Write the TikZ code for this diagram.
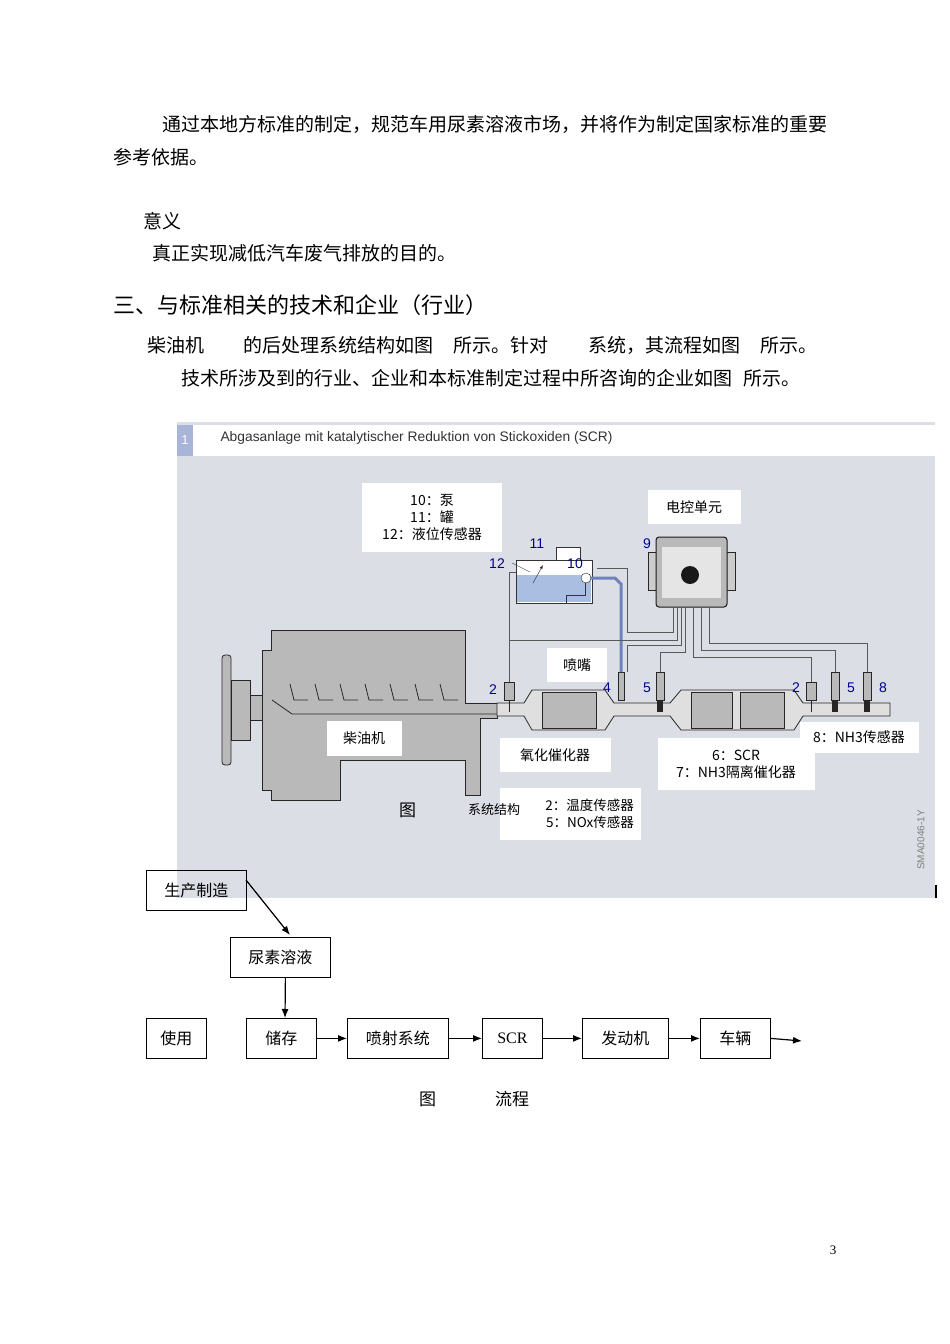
\documentclass[tikz,border=0pt]{standalone}
\usepackage{fontspec}
\usetikzlibrary{arrows.meta}
\setmainfont{Liberation Serif}
\newfontfamily\cjk{Noto Sans CJK SC}
\newfontfamily\hv{Liberation Sans}
\begin{document}
\begin{tikzpicture}[x=1pt,y=-1pt,
  body/.style={anchor=west,inner sep=0pt,font=\cjk\fontsize{19}{19}\selectfont},
  lbl/.style={fill=white,inner sep=2pt,align=center,font=\cjk\fontsize{14}{17}\selectfont},
  num/.style={text=blue!55!black,font=\hv\fontsize{14}{14}\selectfont,inner sep=0pt},
  fbox/.style={draw,thick,minimum height=40pt,anchor=north west,inner sep=0pt,font=\cjk\fontsize{16}{16}\selectfont},
  arr/.style={-{Latex[length=9pt,width=7pt]},line width=1.2pt},
  wire/.style={draw=gray!70!black,line width=0.9pt},
  eng/.style={fill=gray!55,draw=gray!30!black,line width=0.8pt}]
\useasboundingbox (0,0) rectangle (950,1344);
\fill[white] (0,0) rectangle (950,1344);
% body text
\node[body] (t1) at (162,124) {通过本地方标准的制定，规范车用尿素溶液市场，并将作为制定国家标准的重要};
\node[body] (t2) at (113,157) {参考依据。};
\node[body] (t3) at (143,221) {意义};
\node[body] (t4) at (152,253) {真正实现减低汽车废气排放的目的。};
\node[body,font=\cjk\fontsize{22}{22}\selectfont] (h3) at (113,305) {三、与标准相关的技术和企业（行业）};
\node[body] (a1) at (147,345) {柴油机};
\node[body] (a2) at (243,345) {的后处理系统结构如图};
\node[body] (a3) at (453,345) {所示。针对};
\node[body] (a4) at (588,345) {系统，其流程如图};
\node[body] (a5) at (760,345) {所示。};
\node[body] (b1) at (181,378) {技术所涉及到的行业、企业和本标准制定过程中所咨询的企业如图};
\node[body] (b2) at (743,378) {所示。};
% figure frame
\fill[fill={rgb,255:red,220;green,222;blue,230}] (177,422) rectangle (935,898);
\fill[white] (193,425) rectangle (935,456);
\fill[fill={rgb,255:red,168;green,180;blue,216}] (177,425) rectangle (193,456);
\node[text=white,font=\hv\fontsize{13}{13}\selectfont] (one) at (185,440) {1};
\node[anchor=west,font=\hv\fontsize{13.8}{13.8}\selectfont,text=black!80] (hdr) at (217,438) {Abgasanlage mit katalytischer Reduktion von Stickoxiden (SCR)};
\fill[black] (935,885) rectangle (937,898);
% engine
\path[eng,rounded corners=3pt] (222,655) rectangle (231,765);
\path[eng] (231,680) rectangle (250,740);
\path[eng] (250,695) rectangle (272,720);
\path[eng] (262,650) -- (271,650) -- (271,630) -- (465,630) -- (465,703) -- (497,703) -- (497,718) -- (480,718) -- (480,795) -- (465,795) -- (465,760) -- (340,760) -- (340,800) -- (271,800) -- (271,790) -- (262,790) -- cycle;
\foreach \x in {290,315,340,365,390,415,440}
  \draw[gray!30!black,line width=0.8pt] (\x,684) -- (\x+4,700) -- (\x+18,700);
\draw[gray!30!black,line width=0.8pt] (272,700) -- (292,714) -- (497,714);
% exhaust line
\path[draw=gray!30!black,fill=gray!25,line width=0.8pt] (497,703) -- (524,703) -- (532,690) -- (605,690) -- (614,703) -- (670,703) -- (681,690) -- (794,690) -- (803,703) -- (890,703) -- (890,716) -- (803,716) -- (794,730) -- (681,730) -- (670,716) -- (614,716) -- (605,730) -- (532,730) -- (524,716) -- (497,716) -- cycle;
\path[eng] (542,692) rectangle (596,728);
\path[eng] (691,692) rectangle (732,728);
\path[eng] (740,692) rectangle (784,728);
% sensors
\foreach \x in {509,811}{\path[eng] (\x-5,682) rectangle (\x+5,700); \draw[gray!30!black] (\x,700) -- (\x,712);}
\foreach \x in {660,835,867}{\path[eng] (\x-4,672) rectangle (\x+4,700); \fill[gray!30!black] (\x-3,700) rectangle (\x+3,712);}
\path[eng] (618,672) rectangle (624,700);
\node[num] (n2a) at (493,690) {2};
\node[num] (n4) at (607,688) {4};
\node[num] (n5a) at (647,688) {5};
\node[num] (n2b) at (796,688) {2};
\node[num] (n5b) at (851,688) {5};
\node[num] (n8) at (883,688) {8};
% tank
\path[fill=white,draw=gray!40!black] (516,560) rectangle (592,603);
\path[fill=white,draw=gray!40!black] (556,547) rectangle (580,560);
\fill[fill={rgb,255:red,170;green,190;blue,225}] (517,575) rectangle (591,602);
\draw[gray!40!black] (566,603) -- (566,595) -- (585,595) -- (585,580);
\draw[fill=white,draw=gray!30!black] (586,578) circle (5);
\draw[line width=3pt,draw={rgb,255:red,110;green,130;blue,190}] (591,578) -- (615,578) -- (621,584) -- (621,672);
\draw[gray!40!black] (512,563) -- (530,572);
\draw[-latex,gray!30!black] (533,583) -- (543,565);
\node[num] (n11) at (537,544) {11};
\node[num] (n12) at (497,564) {12};
\node[num] (n10) at (575,564) {10};
% ECU
\path[fill=gray!40,draw=gray!30!black] (648,552) rectangle (735,590);
\path[fill=gray!55,draw=gray!20!black,line width=1pt,rounded corners=3pt] (656,537) rectangle (727,607);
\path[fill=gray!20] (662,547) rectangle (721,598);
\fill[gray!20!black] (690,575) circle (9);
\node[num] (n9) at (647,544) {9};
% wires
\draw[wire] (509,682) -- (509,640) -- (677,640) -- (677,607);
\draw[wire] (509,640) -- (509,572) -- (516,572);
\draw[wire] (660,672) -- (660,652) -- (685,652) -- (685,607);
\draw[wire] (627,672) -- (627,645) -- (681,645) -- (681,607);
\draw[wire] (811,682) -- (811,657) -- (693,657) -- (693,607);
\draw[wire] (835,672) -- (835,650) -- (701,650) -- (701,607);
\draw[wire] (867,672) -- (867,643) -- (709,643) -- (709,607);
\draw[wire] (597,568) -- (627,568) -- (627,632) -- (673,632) -- (673,607);
% labels
\node[lbl,minimum width=140pt,minimum height=69pt] (L1) at (432,517) {10：泵\\11：罐\\12：液位传感器};
\node[lbl,minimum width=93pt,minimum height=34pt] (L2) at (694,507) {电控单元};
\node[lbl,minimum width=60pt,minimum height=34pt] (L3) at (577,665) {喷嘴};
\node[lbl,minimum width=75pt,minimum height=35pt] (L4) at (364,738) {柴油机};
\node[lbl,minimum width=111pt,minimum height=34pt] (L5) at (555,755) {氧化催化器};
\node[lbl,minimum width=157pt,minimum height=52pt] (L6) at (736,764) {6：SCR\\7：NH3隔离催化器};
\node[lbl,minimum width=119pt,minimum height=31pt] (L7) at (859,737) {8：NH3传感器};
\fill[white] (500,788) rectangle (641,840);
\node[lbl,fill=none,anchor=east,align=right,font=\cjk\fontsize{13.5}{16.5}\selectfont] (L8) at (636,814) {2：温度传感器\\5：NOx传感器};
\node[body,font=\cjk\fontsize{17}{17}\selectfont] (c1) at (399,810) {图};
\node[body,font=\cjk\fontsize{13}{13}\selectfont] (c2) at (468,810) {系统结构};
\node[rotate=90,text=gray,font=\hv\fontsize{10}{10}\selectfont] (wm) at (921,840) {SMA0046-1Y};
% flowchart
\node[fbox,minimum width=100pt] (f1) at (146,870) {生产制造};
\node[fbox,minimum width=100pt] (f2) at (230,937) {尿素溶液};
\node[fbox,minimum width=60pt] (f3) at (146,1018) {使用};
\node[fbox,minimum width=70pt] (f4) at (246,1018) {储存};
\node[fbox,minimum width=101pt] (f5) at (347,1018) {喷射系统};
\node[fbox,minimum width=60pt,font=\fontsize{16}{16}\selectfont] (f6) at (482,1018) {SCR};
\node[fbox,minimum width=86pt] (f7) at (582,1018) {发动机};
\node[fbox,minimum width=70pt] (f8) at (700,1018) {车辆};
\coordinate (fend) at (802,1041);
\draw[arr] (246,880) -- (290,935);
\draw[arr] (f2.south) ++(5,0) -- (285,1018);
\draw[arr] (f4.east) -- (f5.west);
\draw[arr] (f5.east) -- (f6.west);
\draw[arr] (f6.east) -- (f7.west);
\draw[arr] (f7.east) -- (f8.west);
\draw[arr] (f8.east) -- (fend);
\node[body,font=\cjk\fontsize{17}{17}\selectfont] (g1) at (419,1099) {图};
\node[body,font=\cjk\fontsize{17}{17}\selectfont] (g2) at (495,1099) {流程};
\node[font=\fontsize{13}{13}\selectfont] (pg) at (833,1250) {3};
\end{tikzpicture}
\end{document}
